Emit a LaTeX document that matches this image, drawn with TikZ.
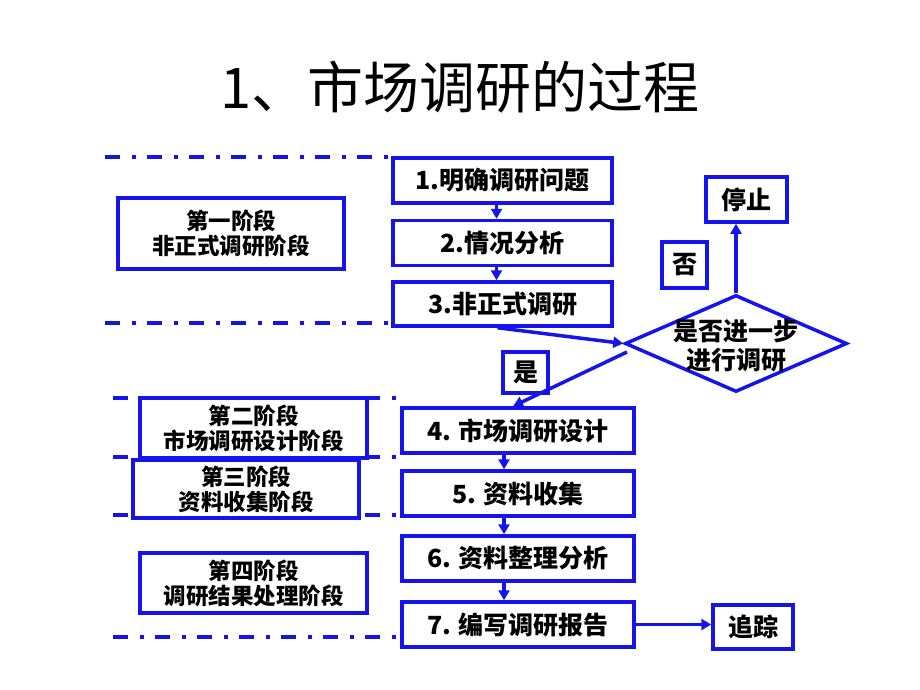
\documentclass[tikz,border=0pt]{standalone}
\usepackage{fontspec}
\setmainfont{Noto Sans CJK SC}
\usetikzlibrary{shapes.geometric,arrows.meta}
\definecolor{lineblue}{RGB}{20,20,235}
\begin{document}
\begin{tikzpicture}[x=1pt,y=-1pt,
  box/.style={draw=lineblue,line width=3.5pt,fill=white,inner sep=0pt,
    font=\fontsize{25}{29}\selectfont\bfseries,align=center},
  stagebox/.style={draw=lineblue,line width=3.2pt,fill=white,inner sep=0pt,
    font=\fontsize{22.5}{25}\selectfont\bfseries,align=center},
  dashdot/.style={draw=lineblue,line width=3.5pt,dash pattern=on 15pt off 12pt on 4pt off 11pt},
  arr/.style={draw=lineblue,line width=3.5pt,-{Triangle[length=10pt,width=11pt]}},
  pln/.style={draw=lineblue,line width=3.5pt}]
\useasboundingbox (0,0) rectangle (920,690);
% title
\node[font=\fontsize{56}{62}\selectfont] (title) at (460,87) {1、市场调研的过程};
% dash-dot separators
\coordinate (l1a) at (105,157); \coordinate (l1b) at (390,157);
\coordinate (l2a) at (105,323); \coordinate (l2b) at (390,323);
\coordinate (l3a) at (113,398); \coordinate (l3b) at (397,398);
\coordinate (l4a) at (113,457); \coordinate (l4b) at (397,457);
\coordinate (l5a) at (113,515); \coordinate (l5b) at (397,515);
\coordinate (l6a) at (113,637); \coordinate (l6b) at (397,637);
\path[dashdot] (l1a) -- (l1b);
\path[dashdot] (l2a) -- (l2b);
\path[dashdot] (l3a) -- (l3b);
\path[dashdot] (l4a) -- (l4b);
\path[dashdot] (l5a) -- (l5b);
\path[dashdot] (l6a) -- (l6b);
% stage boxes
\node[stagebox,minimum width=226,minimum height=71] (s1) at (231,233.5) {第一阶段\\非正式调研阶段};
\node[stagebox,minimum width=227,minimum height=60] (s2) at (253.5,428) {第二阶段\\市场调研设计阶段};
\node[stagebox,minimum width=226,minimum height=58] (s3) at (246,489) {第三阶段\\资料收集阶段};
\node[stagebox,minimum width=227,minimum height=60] (s4) at (253.5,583) {第四阶段\\调研结果处理阶段};
% process boxes
\node[box,minimum width=219,minimum height=45] (b1) at (502.5,180.5) {1.明确调研问题};
\node[box,minimum width=219,minimum height=45] (b2) at (502.5,243) {2.情况分析};
\node[box,minimum width=219,minimum height=44] (b3) at (502.5,304) {3.非正式调研};
\node[box,minimum width=232,minimum height=45] (b4) at (518,430.5) {4. 市场调研设计};
\node[box,minimum width=232,minimum height=45] (b5) at (518,493.5) {5. 资料收集};
\node[box,minimum width=232,minimum height=45] (b6) at (518,558.5) {6. 资料整理分析};
\node[box,minimum width=232,minimum height=45] (b7) at (518,624.5) {7. 编写调研报告};
\node[box,minimum width=80,minimum height=44] (track) at (753,627) {追踪};
\node[box,minimum width=81,minimum height=45] (stop) at (746.5,199.5) {停止};
\node[box,minimum width=45,minimum height=46] (no) at (684.5,265) {否};
\node[box,minimum width=45,minimum height=41] (yes) at (525.5,372.5) {是};
% decision
\node[diamond,draw=lineblue,line width=3.5pt,minimum width=222,minimum height=97,inner sep=0pt] (d) at (736,343.5) {};
\node[font=\fontsize{25}{29}\selectfont\bfseries,align=center] (dt) at (736,346) {是否进一步\\进行调研};
% connectors
\draw[arr] ([xshift=-6pt]b1.south) -- ([xshift=-6pt]b2.north);
\draw[arr] ([xshift=-6pt]b2.south) -- ([xshift=-6pt]b3.north);
\draw[arr] ([xshift=-5pt]b3.south) -- (d.west);
\draw[arr] (d.north) -- (d.north |- stop.south);
\coordinate (dy) at (627,352);
\draw[arr] (dy) -- ([xshift=-5pt]b4.north);
\draw[arr] ([xshift=-14pt]b4.south) -- ([xshift=-14pt]b5.north);
\draw[arr] ([xshift=-14pt]b5.south) -- ([xshift=-14pt]b6.north);
\draw[arr] ([xshift=-14pt]b6.south) -- ([xshift=-14pt]b7.north);
\draw[arr] (b7.east) -- (b7.east -| track.west);
\end{tikzpicture}
\end{document}
